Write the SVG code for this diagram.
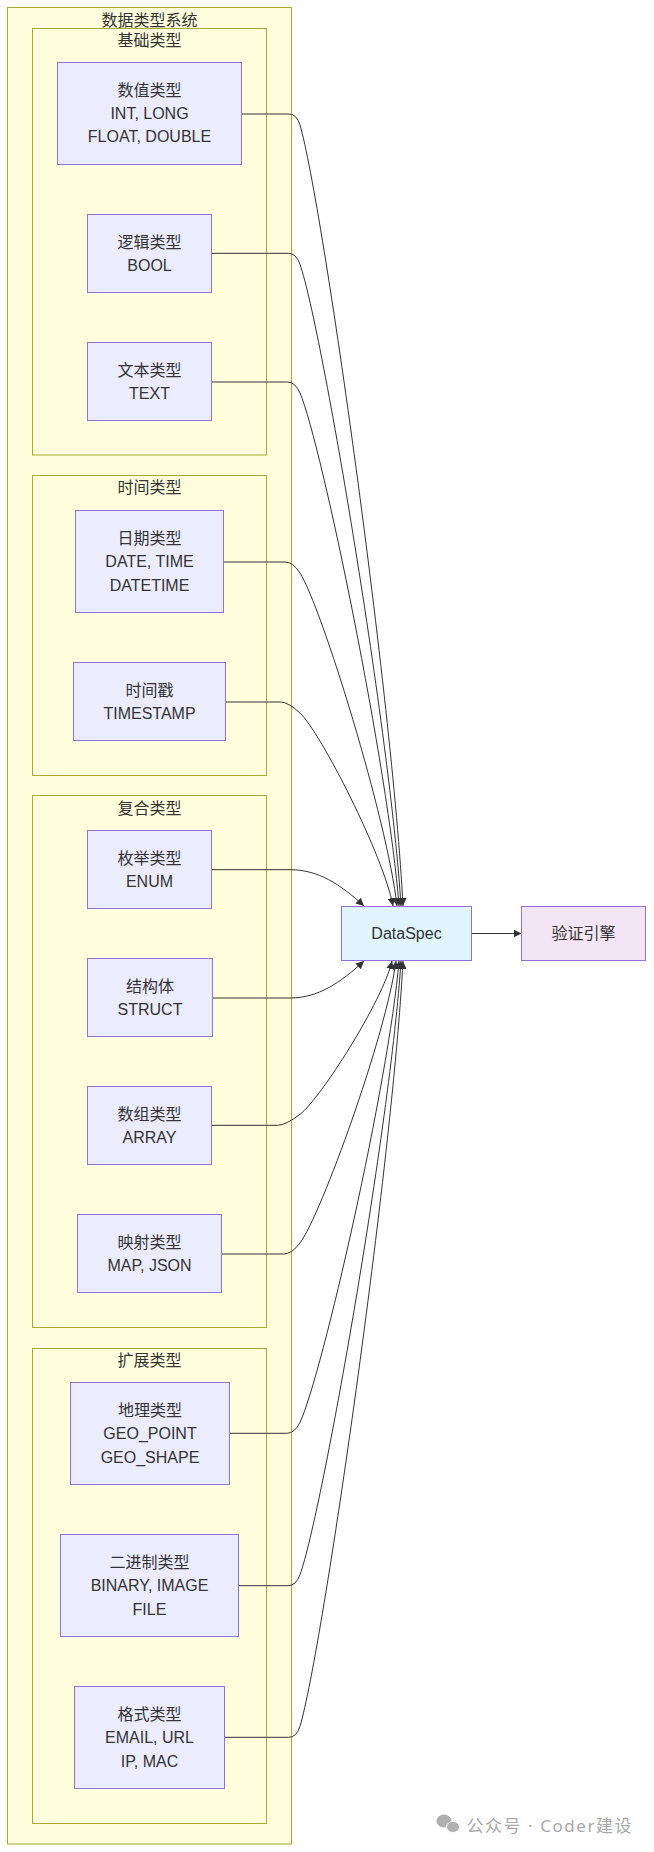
<svg xmlns="http://www.w3.org/2000/svg" width="654" height="1852" viewBox="0 0 654 1852">
<style>
.cluster{fill:#ffffde;stroke:#aaaa33;stroke-width:1}
.node{fill:#ececff;stroke:#9370db;stroke-width:1}
.spec{fill:#e1f5fe;stroke:#9370db;stroke-width:1}
.engine{fill:#f3e5f5;stroke:#9370db;stroke-width:1}
text{font-family:"Liberation Sans","Noto Sans CJK SC",Arial,sans-serif;font-size:16px;fill:#333;text-anchor:middle;dominant-baseline:central}
.edge{fill:none;stroke:#333;stroke-width:1}
.wm{fill:#a8a8a8;text-anchor:start;font-family:"Noto Sans","Noto Sans CJK SC",sans-serif;font-size:17px}
</style>
<defs>
<marker id="arrow" viewBox="0 0 10 10" refX="10" refY="5" markerUnits="userSpaceOnUse" markerWidth="8" markerHeight="8" orient="auto">
<path d="M0,0 L10,5 L0,10 z" fill="#333"/>
</marker>
</defs>
<g id="clusters">
<g id="cluster-system"><rect class="cluster" x="7.5" y="7.5" width="284" height="1836.5"/><text x="149.5" y="20">数据类型系统</text></g>
<g id="cluster-basic"><rect class="cluster" x="32.5" y="28.5" width="234" height="426.5"/><text x="149.5" y="40">基础类型</text></g>
<g id="cluster-time"><rect class="cluster" x="32.5" y="475.5" width="234" height="300"/><text x="149.5" y="487.7">时间类型</text></g>
<g id="cluster-composite"><rect class="cluster" x="32.5" y="795.5" width="234" height="532"/><text x="149.5" y="808.3">复合类型</text></g>
<g id="cluster-ext"><rect class="cluster" x="32.5" y="1348.5" width="234" height="475"/><text x="149.5" y="1360">扩展类型</text></g>
</g>
<g id="connectors">
<path class="edge" marker-end="url(#arrow)" d="M241.3,114 L288.8,114 Q296.8,114 300,125 C322.7,203.1 392.7,703 403,906"/>
<path class="edge" marker-end="url(#arrow)" d="M211.7,253.3 L288.2,253.3 Q296.2,253.3 300,264.3 C322.2,328.5 390.9,739.2 401,906"/>
<path class="edge" marker-end="url(#arrow)" d="M211.7,382 L287.3,382 Q295.3,382 300,393 C321.8,444.3 389.1,772.6 399,906"/>
<path class="edge" marker-end="url(#arrow)" d="M223.7,562 L285,562 Q293,562 300,573 C321.3,606.3 387.3,819.4 397,906"/>
<path class="edge" marker-end="url(#arrow)" d="M225.7,702 L280.3,702 Q288.3,702 300,713 C320.5,732.3 383.7,855.8 393,906"/>
<path class="edge" marker-end="url(#arrow)" d="M211.7,869.7 L290,869.7 C318,869.7 340,884 364,906"/>
<path class="edge" marker-end="url(#arrow)" d="M212.5,998 L290,998 C318,998 340,983 364,961"/>
<path class="edge" marker-end="url(#arrow)" d="M211.7,1125.3 L277.5,1125.3 Q285.5,1125.3 300,1114.3 C320.2,1099 382.8,1000.9 392,961"/>
<path class="edge" marker-end="url(#arrow)" d="M221.7,1254 L283.8,1254 Q291.8,1254 300,1243 C321.1,1214.8 386.4,1034.3 396,961"/>
<path class="edge" marker-end="url(#arrow)" d="M229.5,1433.3 L286.8,1433.3 Q294.8,1433.3 300,1422.3 C321.8,1376.2 389.1,1080.9 399,961"/>
<path class="edge" marker-end="url(#arrow)" d="M238.5,1585.7 L288,1585.7 Q296,1585.7 300,1574.7 C322.2,1513.3 390.9,1120.6 401,961"/>
<path class="edge" marker-end="url(#arrow)" d="M224.5,1737.3 L288.7,1737.3 Q296.7,1737.3 300,1726.3 C322.7,1649.8 392.7,1160 403,961"/>
<path class="edge" marker-end="url(#arrow)" d="M471.5,933.5 L521.5,933.5"/>
</g>
<g id="node-num"><rect class="node" x="57.5" y="62.5" width="184" height="102"/><text x="149.5" y="90.7">数值类型</text><text x="149.5" y="113.5">INT, LONG</text><text x="149.5" y="136.5">FLOAT, DOUBLE</text></g>
<g id="node-bool"><rect class="node" x="87.5" y="214.5" width="124" height="78"/><text x="149.5" y="242.5">逻辑类型</text><text x="149.5" y="265.5">BOOL</text></g>
<g id="node-text"><rect class="node" x="87.5" y="342.5" width="124" height="78"/><text x="149.5" y="370.5">文本类型</text><text x="149.5" y="393.5">TEXT</text></g>
<g id="node-date"><rect class="node" x="75.5" y="510.5" width="148" height="102"/><text x="149.5" y="538">日期类型</text><text x="149.5" y="561.5">DATE, TIME</text><text x="149.5" y="585">DATETIME</text></g>
<g id="node-ts"><rect class="node" x="73.5" y="662.5" width="152" height="78"/><text x="149.5" y="690">时间戳</text><text x="149.5" y="713">TIMESTAMP</text></g>
<g id="node-enum"><rect class="node" x="87.5" y="830.5" width="124" height="78"/><text x="149.5" y="858">枚举类型</text><text x="149.5" y="881">ENUM</text></g>
<g id="node-struct"><rect class="node" x="87.5" y="958.5" width="125" height="78"/><text x="150" y="986">结构体</text><text x="150" y="1009">STRUCT</text></g>
<g id="node-array"><rect class="node" x="87.5" y="1086.5" width="124" height="78"/><text x="149.5" y="1114">数组类型</text><text x="149.5" y="1137">ARRAY</text></g>
<g id="node-map"><rect class="node" x="77.5" y="1214.5" width="144" height="78"/><text x="149.5" y="1242">映射类型</text><text x="149.5" y="1265">MAP, JSON</text></g>
<g id="node-geo"><rect class="node" x="70.5" y="1382.5" width="159" height="102"/><text x="150" y="1410">地理类型</text><text x="150" y="1433.5">GEO_POINT</text><text x="150" y="1457">GEO_SHAPE</text></g>
<g id="node-bin"><rect class="node" x="60.5" y="1534.5" width="178" height="102"/><text x="149.5" y="1562">二进制类型</text><text x="149.5" y="1585.5">BINARY, IMAGE</text><text x="149.5" y="1609">FILE</text></g>
<g id="node-fmt"><rect class="node" x="74.5" y="1686.5" width="150" height="102"/><text x="149.5" y="1714">格式类型</text><text x="149.5" y="1737.5">EMAIL, URL</text><text x="149.5" y="1761">IP, MAC</text></g>
<g id="node-dataspec"><rect class="spec" x="341.5" y="906.5" width="130" height="54"/><text x="406.5" y="933.5">DataSpec</text></g>
<g id="node-engine"><rect class="engine" x="521.5" y="906.5" width="124" height="54"/><text x="583.5" y="933.5">验证引擎</text></g>
<g id="watermark">
<ellipse cx="444" cy="1821" rx="7.5" ry="6.5" fill="#b0b0b0"/>
<ellipse cx="453" cy="1827" rx="6.5" ry="5.5" fill="#b0b0b0" stroke="#fff" stroke-width="1"/>
<text class="wm" x="466.5" y="1825" textLength="165" lengthAdjust="spacing">公众号 · Coder建设</text>
</g>
</svg>
